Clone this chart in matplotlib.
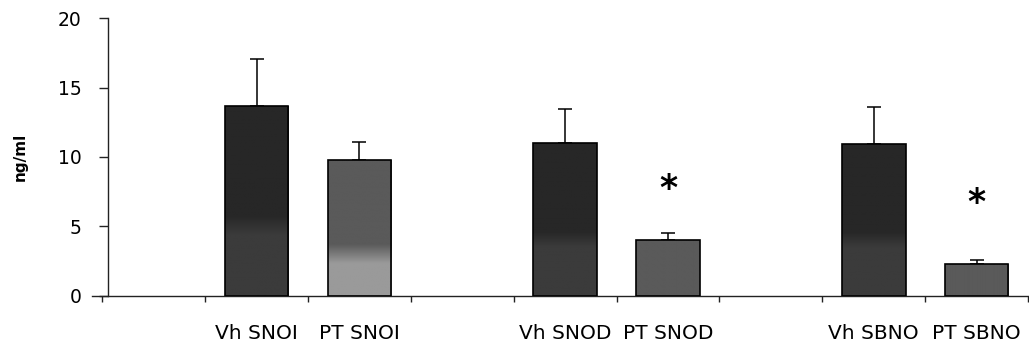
import numpy as np
import matplotlib
matplotlib.use("Agg")
import matplotlib.pyplot as plt
from matplotlib.colors import LinearSegmentedColormap

# ---- data ----
slots = ["", "Vh SNOI", "PT SNOI", "", "Vh SNOD", "PT SNOD", "", "Vh SBNO", "PT SBNO"]
bar_slots = [1, 2, 4, 5, 7, 8]
values = [13.7, 9.8, 11.0, 4.0, 10.95, 2.25]
errors = [3.4, 1.3, 2.45, 0.5, 2.65, 0.35]
star_slots = [5, 8]
star_y = [8.05, 7.05]
y_ticks = [0, 5, 10, 15, 20]

# ---- styles: (top colour, bottom colour, upper frac, lower frac) ----
grad_styles = [
    ("#272727", "#3b3b3b", 0.42, 0.32),
    ("#5a5a5a", "#9a9a9a", 0.38, 0.24),
    ("#272727", "#3b3b3b", 0.42, 0.32),
    ("#5a5a5a", "#5a5a5a", 0.38, 0.24),
    ("#272727", "#3b3b3b", 0.42, 0.32),
    ("#5a5a5a", "#5a5a5a", 0.38, 0.24),
]

W, H = 1029, 345
fig = plt.figure(figsize=(W / 100, H / 100), dpi=100)
ax = fig.add_axes([92 / W, 49.3 / H, 936 / W, 277.4 / H])
ax.set_xlim(-0.1, 9.0)
ax.set_ylim(0, 20)

bw = 0.62
centers = [s + 0.5 for s in bar_slots]
bars = ax.bar(centers, values, width=bw, facecolor="none", edgecolor="black",
              linewidth=1.2, zorder=3)

for b, (ct, cb, fu, fl) in zip(bars, grad_styles):
    x0 = b.get_x()
    h = b.get_height()
    cmap = LinearSegmentedColormap.from_list(
        "g", [(0.0, cb), (fl, cb), (fu, ct), (1.0, ct)])
    grad = np.linspace(0, 1, 256).reshape(-1, 1)
    im = ax.imshow(grad, cmap=cmap, origin="lower", aspect="auto",
                   extent=[x0, x0 + bw, 0, h], zorder=2, interpolation="bilinear")
    im.set_clip_path(b)

ax.errorbar(centers, values, yerr=[np.zeros(len(errors)), errors], fmt="none",
            ecolor="black", elinewidth=1.1, capsize=5, capthick=1.1, zorder=1)

for s, yv in zip(star_slots, star_y):
    ax.annotate("*", xy=(s + 0.5, yv), xytext=(0, -11), textcoords="offset points",
                ha="center", va="baseline", fontsize=25, fontweight="bold", color="black")

ax.set_aspect("auto")
ax.set_xlim(-0.1, 9.0)
ax.set_ylim(0, 20)

# spines
for sp in ["top", "right"]:
    ax.spines[sp].set_visible(False)
ax.spines["left"].set_position(("data", 0.06))
ax.spines["left"].set_color("#222222")
ax.spines["bottom"].set_color("#222222")
ax.spines["left"].set_linewidth(1.0)
ax.spines["bottom"].set_linewidth(1.0)

ax.set_yticks(y_ticks)
ax.set_yticklabels([str(t) for t in y_ticks])
ax.tick_params(axis="y", direction="out", length=6.5, width=1.0, pad=13,
               labelsize=13.5, colors="#222222", labelcolor="black")

ax.set_xticks([i + 0.5 for i in range(len(slots))])
ax.set_xticklabels(slots)
ax.set_xticks(np.arange(0, len(slots) + 1), minor=True)
ax.tick_params(axis="x", which="major", length=0, pad=20.5, labelsize=14.5)
ax.tick_params(axis="x", which="minor", direction="out", length=4.5, width=1.0,
               colors="#222222")

fig.text(20 / W, 1 - 157 / H, "ng/ml", rotation=90, ha="center", va="center",
         fontsize=11, fontweight="bold")

fig.savefig("out.png", dpi=100)
